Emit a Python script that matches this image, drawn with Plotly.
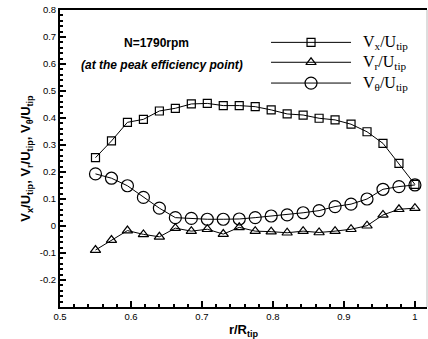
import plotly.graph_objects as go

r_R = [0.55 + 0.0225 * i for i in range(21)]
vx = [0.253, 0.315, 0.384, 0.395, 0.426, 0.436, 0.452, 0.454, 0.446, 0.446, 0.442,
      0.430, 0.415, 0.411, 0.399, 0.393, 0.377, 0.349, 0.306, 0.232, 0.154]
vr = [-0.089, -0.052, -0.017, -0.031, -0.040, -0.008, -0.019, -0.012, -0.030, -0.005, -0.019,
      -0.021, -0.025, -0.019, -0.024, -0.019, -0.012, 0.001, 0.041, 0.062, 0.066]
vt = [0.193, 0.177, 0.149, 0.106, 0.066, 0.031, 0.028, 0.025, 0.025, 0.026, 0.031,
      0.037, 0.041, 0.049, 0.057, 0.072, 0.081, 0.100, 0.136, 0.146, 0.152]

names = ["V<sub>x</sub>/U<sub>tip</sub>", "V<sub>r</sub>/U<sub>tip</sub>", "V<sub>θ</sub>/U<sub>tip</sub>"]
symbols = ["square-open", "triangle-up-open", "circle-open"]
sizes = [8, 9, 12]
series = [vx, vr, vt]

fig = go.Figure()
for y, nm, sym, sz in zip(series, names, symbols, sizes):
    fig.add_trace(go.Scatter(x=r_R, y=y, mode="lines+markers", name=nm,
                             line=dict(color="black", width=1),
                             marker=dict(symbol=sym, size=sz, color="black", line=dict(width=1.2)),
                             showlegend=False))

# manual legend (long sample lines like the original)
leg_y = [0.891, 0.824, 0.754]
for ly, nm, sym, sz in zip(leg_y, names, symbols, sizes):
    fig.add_shape(type="line", xref="paper", yref="paper", x0=0.575, x1=0.793, y0=ly, y1=ly,
                  line=dict(color="black", width=1))
    fig.add_trace(go.Scatter(x=[0.684], y=[ly], xaxis="x2", yaxis="y2", mode="markers",
                             marker=dict(symbol=sym, size=sz, color="black", line=dict(width=1.2)),
                             showlegend=False, hoverinfo="skip"))
    fig.add_annotation(x=0.82, y=ly, xref="paper", yref="paper", text=nm, showarrow=False,
                       xanchor="left", yanchor="middle",
                       font=dict(family="Liberation Serif", size=16, color="black"))

fig.add_annotation(x=0.17, y=0.888, xref="paper", yref="paper", text="<b>N=1790rpm</b>",
                   showarrow=False, xanchor="left", yanchor="middle",
                   font=dict(family="Liberation Sans", size=12, color="black"))
fig.add_annotation(x=0.052, y=0.815, xref="paper", yref="paper",
                   text="<b><i>(at the peak efficiency point)</i></b>",
                   showarrow=False, xanchor="left", yanchor="middle",
                   font=dict(family="Liberation Sans", size=12, color="black"))

# faint right frame
fig.add_shape(type="line", xref="paper", yref="paper", x0=1, x1=1, y0=0, y1=1,
              line=dict(color="#bbbbbb", width=1))

fig.update_layout(
    width=428, height=339,
    margin=dict(l=60, r=1, t=10, b=32),
    plot_bgcolor="white", paper_bgcolor="white",
    font=dict(family="Liberation Sans", size=9.5, color="black"),
    xaxis=dict(range=[0.5, 1.017], tickvals=[0.5, 0.6, 0.7, 0.8, 0.9, 1.0],
               ticktext=["0.5", "0.6", "0.7", "0.8", "0.9", "1"],
               ticks="inside", ticklen=6, tickwidth=1.5, tickcolor="black",
               showline=True, linecolor="black", linewidth=2, mirror=True,
               showgrid=False, zeroline=False,
               minor=dict(dtick=0.02, ticks="inside", ticklen=3, tickcolor="black"),
               title=dict(text="<b>r/R<sub>tip</sub></b>", font=dict(size=13), standoff=4)),
    yaxis=dict(range=[-0.3, 0.8], tickvals=[-0.2, -0.1, 0, 0.1, 0.2, 0.3, 0.4, 0.5, 0.6, 0.7, 0.8],
               ticktext=["-0.2", "-0.1", "0", "0.1", "0.2", "0.3", "0.4", "0.5", "0.6", "0.7", "0.8"],
               ticks="inside", ticklen=6, tickwidth=1.5, tickcolor="black",
               showline=True, linecolor="black", linewidth=2, mirror=False,
               showgrid=False, zeroline=False,
               minor=dict(dtick=0.02, ticks="inside", ticklen=3, tickcolor="black"),
               title=dict(text="<b>V<sub>x</sub>/U<sub>tip</sub>, V<sub>r</sub>/U<sub>tip</sub>, V<sub>θ</sub>/U<sub>tip</sub></b>",
                          font=dict(size=13), standoff=6)),
    xaxis2=dict(range=[0, 1], overlaying="x", visible=False),
    yaxis2=dict(range=[0, 1], overlaying="y", visible=False),
)

fig.write_html("out.html")
